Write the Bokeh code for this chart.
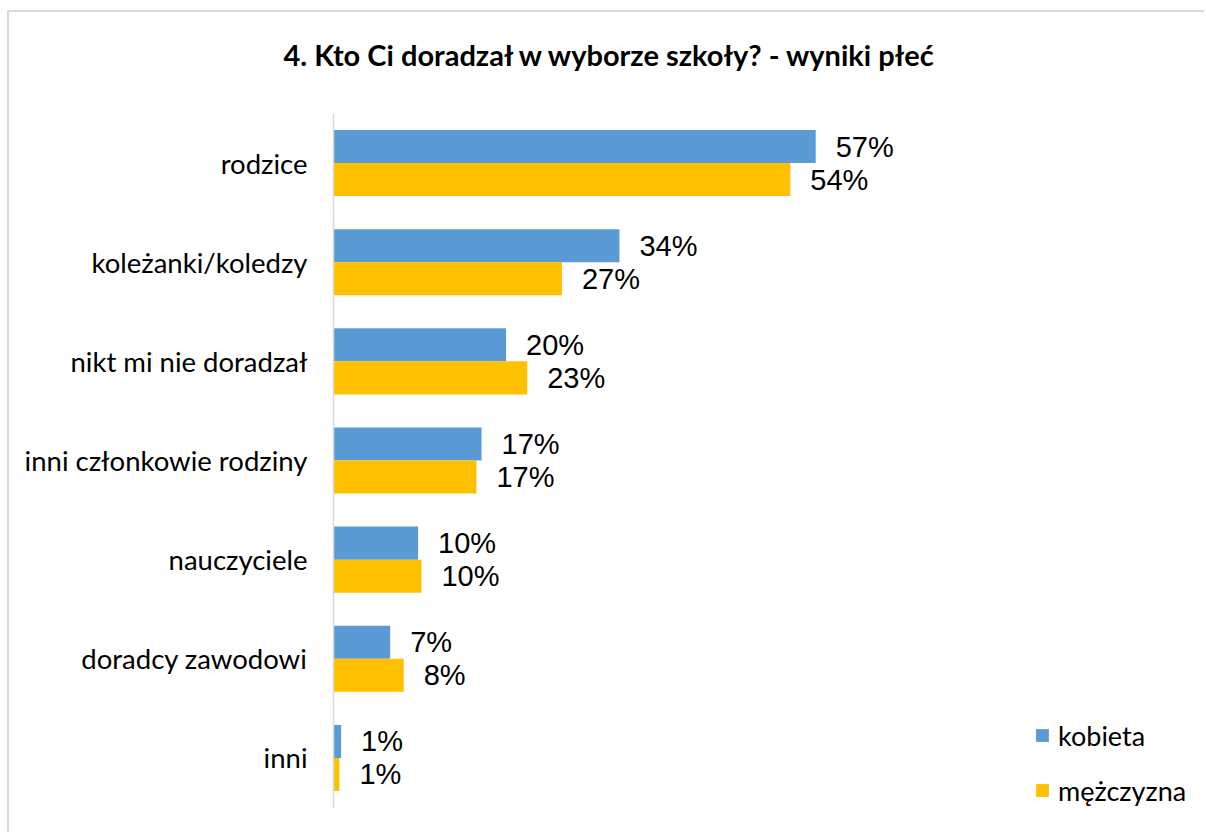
from bokeh.plotting import figure
from bokeh.models import FactorRange, Range1d, Legend, LegendItem, ColumnDataSource, Title
from bokeh.transform import dodge
from bokeh.core.properties import value
from bokeh.embed import file_html
from bokeh.resources import INLINE

# ---- data ----
categories = ["rodzice", "koleżanki/koledzy", "nikt mi nie doradzał",
              "inni członkowie rodziny", "nauczyciele", "doradcy zawodowi", "inni"]
kobieta = [0.57, 0.338, 0.204, 0.175, 0.100, 0.067, 0.009]
mezczyzna = [0.54, 0.270, 0.229, 0.169, 0.104, 0.083, 0.007]
kobieta_labels = ["57%", "34%", "20%", "17%", "10%", "7%", "1%"]
mezczyzna_labels = ["54%", "27%", "23%", "17%", "10%", "8%", "1%"]
series_names = ["kobieta", "mężczyzna"]
title_text = "4. Kto Ci doradzał w wyborze szkoły? - wyniki płeć"

BLUE = "#5B9BD5"
ORANGE = "#FFC000"

src = ColumnDataSource(dict(cat=categories, k=kobieta, m=mezczyzna,
                            kl=kobieta_labels, ml=mezczyzna_labels))

W, H = 1197, 822
p = figure(width=W, height=H,
           y_range=FactorRange(*categories[::-1]),
           x_range=Range1d(0, 1.013),
           output_backend="svg", toolbar_location=None,
           min_border_left=324, min_border_right=16,
           min_border_top=101, min_border_bottom=27,
           margin=(10, 0, 0, 7),
           styles={"border-left": "2px solid #d9d9d9",
                   "border-top": "2px solid #d9d9d9",
                   "overflow": "hidden"})

p.title = None
spacer = Title(text=" ", text_font_size="1px", standoff=19)
main_title = Title(text=title_text, align="left", offset=-50,
                   text_font="Lato", text_font_style="bold",
                   text_font_size="29px", text_color="black", standoff=40)
p.add_layout(spacer, "above")
p.add_layout(main_title, "above")

r1 = p.hbar(y=dodge("cat", 1/6, range=p.y_range), left=0, right="k", height=1/3,
            source=src, fill_color=BLUE, line_color=None)
r2 = p.hbar(y=dodge("cat", -1/6, range=p.y_range), left=0, right="m", height=1/3,
            source=src, fill_color=ORANGE, line_color=None)

p.text(x="k", y=dodge("cat", 1/6, range=p.y_range), text="kl", source=src,
       x_offset=20, text_baseline="middle", text_align="left",
       text_font=value("Liberation Sans"), text_font_size="29px", text_color="black")
p.text(x="m", y=dodge("cat", -1/6, range=p.y_range), text="ml", source=src,
       x_offset=20, text_baseline="middle", text_align="left",
       text_font=value("Liberation Sans"), text_font_size="29px", text_color="black")

p.xaxis.visible = False
p.xgrid.grid_line_color = None
p.ygrid.grid_line_color = None
p.outline_line_color = None

ya = p.yaxis[0]
ya.axis_line_color = "#d9d9d9"
ya.axis_line_width = 1.5
ya.major_tick_line_color = None
ya.minor_tick_line_color = None
ya.major_tick_out = 0
ya.major_tick_in = 0
ya.major_label_standoff = 26
ya.major_label_text_font = "Lato"
ya.major_label_text_font_size = "27.5px"
ya.major_label_text_color = "black"

legend = Legend(items=[LegendItem(label=series_names[0], renderers=[r1]),
                       LegendItem(label=series_names[1], renderers=[r2])],
                location=(701, 0), orientation="vertical",
                glyph_width=16, glyph_height=16, label_standoff=8,
                label_height=34, spacing=21, padding=0, margin=0,
                border_line_color=None, background_fill_alpha=0,
                label_text_font="Lato", label_text_font_size="27px",
                label_text_color="black")
p.add_layout(legend)

open("out.html", "w").write(file_html(p, INLINE))
